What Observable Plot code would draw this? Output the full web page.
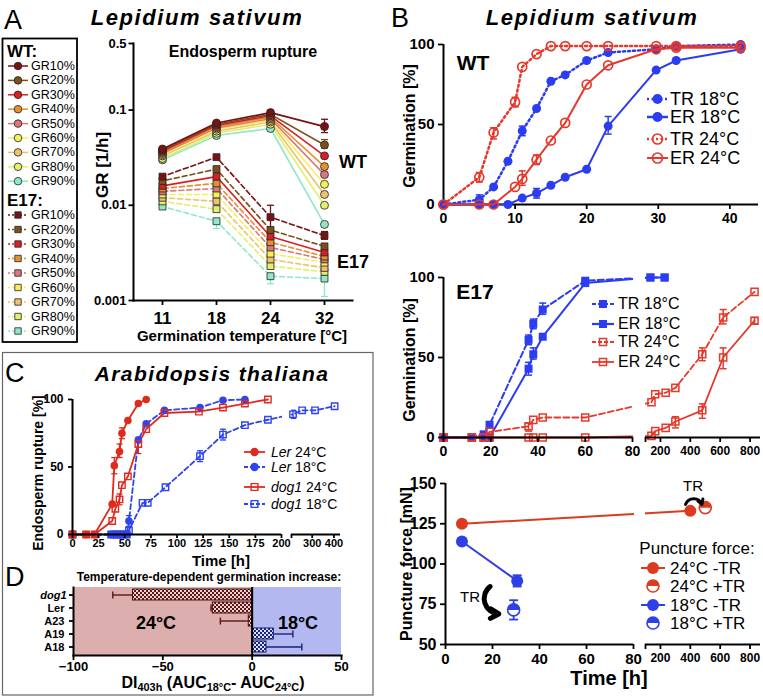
<!DOCTYPE html>
<html><head><meta charset="utf-8">
<script src="https://cdn.jsdelivr.net/npm/d3@7"></script>
<script src="https://cdn.jsdelivr.net/npm/@observablehq/plot@0.6"></script>
<style>
body{margin:0;background:#fff;}
#root{position:relative;width:763px;height:698px;overflow:hidden;background:#fff;font-family:"Liberation Sans",Arial,Helvetica,sans-serif;color:#000;}
.t{position:absolute;white-space:nowrap;line-height:1;}
.t sub{font-size:0.68em;vertical-align:-0.3em;line-height:0;}
</style></head><body><div id="root"></div>
<script>
// ================= DATA =================
// Panel A — growth rates GR [1/h] at 11, 18, 24, 32 °C
const tempsA = ["11","18","24","32"];
const grLabels = ["GR10%","GR20%","GR30%","GR40%","GR50%","GR60%","GR70%","GR80%","GR90%"];
const grColors = ["#7a1214","#7b5119","#d71f26","#e3912d","#d8777c","#f6ef5a","#eec072","#e3ee6a","#8fe9c6"];
const wtRates = [
  [0.039,0.073,0.094,0.067],
  [0.038,0.071,0.090,0.043],
  [0.037,0.069,0.087,0.033],
  [0.036,0.067,0.084,0.0255],
  [0.035,0.065,0.081,0.021],
  [0.034,0.063,0.078,0.0166],
  [0.033,0.060,0.075,0.013],
  [0.031,0.057,0.071,0.010],
  [0.030,0.054,0.064,0.0063]
];
const e17Rates = [
  [0.020,0.032,0.0075,0.0048],
  [0.018,0.024,0.0055,0.0037],
  [0.016,0.020,0.0047,0.0032],
  [0.015,0.017,0.0041,0.0029],
  [0.014,0.015,0.0036,0.0027],
  [0.013,0.013,0.0031,0.0025],
  [0.012,0.011,0.0027,0.0022],
  [0.011,0.0091,0.0023,0.0020],
  [0.0097,0.0068,0.0018,0.0017]
];
const errA = [
  {i:0,t:"32",lo:0.058,hi:0.080},
  {i:1,t:"32",lo:0.040,hi:0.049},
  {i:0,t:"24",lo:0.0057,hi:0.0100},
  {i:0,t:"32",lo:0.0044,hi:0.0053},
  {i:8,t:"18",lo:0.0057,hi:0.0068},
  {i:8,t:"24",lo:0.0015,hi:0.0018},
  {i:8,t:"32",lo:0.0011,hi:0.0026}
];
const ticksA = [0.001,0.01,0.1,0.5];

// Panel B — WT germination (%)
const wtTime18 = [0,5,7,9,11,13,15,17,20,23,29.7,32.5,41.5];
const wtTime24 = [0,5,7,10,11,13,15,17,20,23,29.7,32.5,41.5];
const wtTR18 = [0,3,11,27,46,60,77,81,90,95,97,99,100];
const wtER18 = [0,0,0,0,4,7,12,17,22,49,84,90,97];
const wtTR24 = [0,17,45,64,86,94,99,99,99,99,99,99,99];
const wtER24 = [0,0,0,11,16,28,40,51,75,87,97,98,98];
const wtErr18 = [{t:5,lo:1,hi:6},{t:11,lo:43,hi:49},{t:13,lo:4,hi:10},{t:23,lo:44,hi:55}];
const wtErr24 = [{t:5,lo:14,hi:20},{t:7,lo:41,hi:48},{t:10,lo:61,hi:67},{t:11,lo:12,hi:21},{t:13,lo:25,hi:31}];

// Panel B — E17 germination (%)
const e17Time18 = [0,12,17,19.5,36,38,42,60,133,228];
const e17TR18 = [0,0,2,8,61,71,80,98,100,100];
const e17ER18 = [0,0,0,0,43,52,63,96.5,100,100];
const e17Time24 = [0,12,17,19.5,36,38,42,60,140,165,235,300,480,620,830];
const e17TR24 = [0,0,0,3.5,7,11,12.5,12.5,22,27,28,31,52,75,91];
const e17ER24 = [0,0,0,0,0,0,0,0,1,4,6,10,17,50,73];
const e17Err18 = [{t:36,lo:58,hi:64},{t:38,lo:68,hi:74},{t:42,lo:77,hi:84},{t:36,lo:39,hi:47},{t:38,lo:49,hi:56}];
const e17Err24 = [{t:36,lo:4,hi:9},{t:480,lo:48,hi:56},{t:620,lo:71,hi:80},{t:300,lo:6,hi:13},{t:480,lo:12,hi:21},{t:620,lo:43,hi:56},{t:830,lo:71,hi:75}];

// Panel B — puncture force (mN)
const pfTime24m = [7,400], pf24m = [125,133];
const pfTime24p = [500], pf24p = [135];
const pfTime18m = [7,30.5], pf18m = [114,89.5];
const pfTime18p = [29], pf18p = [71.5];
const pfErr18 = [{t:30.5,lo:86,hi:93},{t:29,lo:65.5,hi:77.5}];
const trArrow24 = [{t1:368,f1:137,t2:478,f2:137}];
const trArrow18 = [{t1:19,f1:86,t2:22.7,f2:69}];

// Panel C — Arabidopsis endosperm rupture (%)
const cTimeLer24 = [0,13,21,38,40,45,47.3,53,63,70.5];
const cLer24 = [0,0,0,22.5,51,61.5,75,84.5,97,100];
const cTimeLer18 = [0,37,40,43,46,49,52,54,63,70.5,88,122,144,165];
const cLer18 = [0,0,0,0,0,0,0,10,70,82,92,94,99.5,100];
const cTimeDog24 = [0,13,21,38,41,45,47.3,53,63,70.5,88,121,144,165,187];
const cDog24 = [0,0,0,10,19,26,36.5,43,67,78,90,91,94,97,100];
const cTimeDog18 = [0,37,40,43,46,49,52,54,67,72,89,122,144,165,187,212,254,313,403];
const cDog18 = [0,0,0,0,0,0,0,3,23.5,23.5,35,58,74,81,85,89,92,92,95];
const cErr24 = [{t:40,lo:45,hi:57},{t:45,lo:57,hi:67},{t:47.3,lo:71,hi:79},{t:63,lo:60,hi:72},{t:45,lo:22,hi:30}];
const cErr18 = [{t:54,lo:6,hi:14},{t:122,lo:54,hi:62},{t:144,lo:70,hi:78},{t:212,lo:86,hi:92}];

// Panel D — DI403h
const dCats = ["dog1","Ler","A23","A19","A18"];
const dDI = [-66.7,-22,-1.9,12.1,8];
const dErr = [-78,-23,-17.8,22.8,27.8];

// ================= HELPERS =================
const FONT = '"Liberation Sans", Arial, Helvetica, sans-serif';
const root = document.getElementById("root");
const defs = d3.select(root).append("svg").attr("width",0).attr("height",0).style("position","absolute").append("defs");
function checker(id, light, dark){
  const p = defs.append("pattern").attr("id",id).attr("patternUnits","userSpaceOnUse").attr("width",4).attr("height",4);
  p.append("rect").attr("width",4).attr("height",4).attr("fill",light);
  p.append("rect").attr("width",2).attr("height",2).attr("fill",dark);
  p.append("rect").attr("x",2).attr("y",2).attr("width",2).attr("height",2).attr("fill",dark);
}
checker("chkR","#f0d2d2","#5a1616");
checker("chkB","#dfe2ff","#18237a");

function mk(o){
  const {x0,x1,y0,y1,...rest} = o;
  const svg = Plot.plot({
    width:763, height:698,
    marginLeft:x0, marginRight:763-x1, marginTop:y0, marginBottom:698-y1,
    color:{type:"identity"},
    style:`position:absolute;left:0;top:0;background:transparent;overflow:visible;font-family:${FONT};color:#000;`,
    ...rest
  });
  root.appendChild(svg);
  return svg;
}
const hcap = {draw(ctx,size){const r=Math.sqrt(size/Math.PI);ctx.moveTo(-r,0);ctx.lineTo(r,0);}};
const vcap = {draw(ctx,size){const r=Math.sqrt(size/Math.PI);ctx.moveTo(0,-r);ctx.lineTo(0,r);}};
const halfTop = {draw(ctx,size){const r=Math.sqrt(size/Math.PI);ctx.moveTo(r,0);ctx.arc(0,0,r,0,Math.PI,true);ctx.closePath();}};
const ident = t => t;
function errMarks(rows, color, cap=3.5, w=1.5, f=ident){
  const x = d => f(d.t);
  return [
    Plot.ruleX(rows,{x,y1:"lo",y2:"hi",stroke:color,strokeWidth:w}),
    Plot.dot(rows,{x,y:"lo",symbol:hcap,r:cap,stroke:color,strokeWidth:w,fill:"none"}),
    Plot.dot(rows,{x,y:"hi",symbol:hcap,r:cap,stroke:color,strokeWidth:w,fill:"none"})
  ];
}
const rows = (ts,vs,f=ident) => ts.map((t,i)=>({t:f(t), g:vs[i]}));
function T(x,y,html,css="",anchor="c",rot=false){
  const d = document.createElement("div");
  d.className = "t";
  d.innerHTML = html;
  d.style.cssText += css;
  d.style.left = x+"px"; d.style.top = y+"px";
  const tx = anchor==="l" ? "0" : anchor==="r" ? "-100%" : "-50%";
  d.style.transform = `translate(${tx},-50%)` + (rot ? " rotate(-90deg)" : "");
  root.appendChild(d);
}
const axStyle = {fontWeight:"bold", strokeWidth:1.8, tickSize:5, label:null};
// broken-axis transforms (time -> display units along the frame)
const e17Brk = d3.scaleLinear().domain([0,80,100,870]).range([0,189,202,317]);
const pfBrk  = d3.scaleLinear().domain([0,80,100,870]).range([0,188,200,315]);
const cBrk   = d3.scaleLinear().domain([0,200,205,430]).range([0,209,219,268]);
const inv = (b) => (u) => String(Math.round(b.invert(u)));

// ================= PANEL A =================
const aWT = [], aE17 = [];
grLabels.forEach((g,i)=>tempsA.forEach((t,j)=>{
  aWT.push({g,i,t,v:wtRates[i][j],c:grColors[i]});
  aE17.push({g,i,t,v:e17Rates[i][j],c:grColors[i]});
}));
const aWTr = aWT.slice().reverse(), aE17r = aE17.slice().reverse();
const errArows = errA.map(d=>({...d, c: grColors[d.i]}));
mk({x0:133,x1:352,y0:43,y1:300,
  x:{type:"point",domain:tempsA,padding:0.5},
  y:{type:"log",domain:[0.001,0.5],axis:null},
  marks:[
    Plot.frame({anchor:"left",strokeWidth:2}),
    Plot.frame({anchor:"bottom",strokeWidth:2}),
    Plot.dot(ticksA,{y:d=>d,frameAnchor:"left",dx:-2.5,symbol:hcap,r:2.5,stroke:"#000",strokeWidth:1.8,fill:"none"}),
    Plot.text(ticksA,{y:d=>d,text:d=>String(d),frameAnchor:"left",dx:-7,textAnchor:"end",fontWeight:"bold",fontSize:13}),
    Plot.axisX({...axStyle,ticks:tempsA,fontSize:17,tickPadding:6}),
    ...errMarks(errArows,"c",3.5,1.3),
    Plot.line(aWTr,{x:"t",y:"v",z:"g",stroke:"c",strokeWidth:1.6}),
    Plot.line(aE17r,{filter:d=>d.i!==2,x:"t",y:"v",z:"g",stroke:"c",strokeWidth:1.6,strokeDasharray:"5,3"}),
    Plot.line(aE17r,{filter:d=>d.i===2,x:"t",y:"v",z:"g",stroke:"c",strokeWidth:1.6}),
    Plot.dot(aE17r,{x:"t",y:"v",symbol:"square",r:3.9,fill:"c",stroke:"#222",strokeWidth:0.8}),
    Plot.dot(aWTr,{x:"t",y:"v",r:4,fill:"c",stroke:"#222",strokeWidth:0.8})
  ]});

// ================= PANEL B: WT =================
const BLUE = "#2b3cf2", RED = "#e5392b";
mk({x0:443,x1:758,y0:44,y1:204,
  x:{domain:[0,44]}, y:{domain:[0,100]},
  marks:[
    Plot.ruleX([0],{strokeWidth:2}),
    Plot.ruleY([0],{strokeWidth:2}),
    Plot.axisY({...axStyle,ticks:[0,50,100],fontSize:15}),
    Plot.axisX({...axStyle,ticks:[0,10,20,30,40],fontSize:14}),
    ...errMarks(wtErr18,BLUE),
    ...errMarks(wtErr24,RED),
    Plot.line(rows(wtTime18,wtTR18),{x:"t",y:"g",stroke:BLUE,strokeWidth:2.5,strokeDasharray:"2,3"}),
    Plot.line(rows(wtTime18,wtER18),{x:"t",y:"g",stroke:BLUE,strokeWidth:2}),
    Plot.dot(rows(wtTime18,wtTR18),{x:"t",y:"g",r:4.5,fill:BLUE}),
    Plot.dot(rows(wtTime18,wtER18),{x:"t",y:"g",r:4.5,fill:BLUE}),
    Plot.line(rows(wtTime24,wtTR24),{x:"t",y:"g",stroke:RED,strokeWidth:2.5,strokeDasharray:"2,3"}),
    Plot.line(rows(wtTime24,wtER24),{x:"t",y:"g",stroke:RED,strokeWidth:2}),
    Plot.dot(rows(wtTime24,wtTR24),{x:"t",y:"g",r:4.5,fill:"none",stroke:RED,strokeWidth:1.7}),
    Plot.dot(rows(wtTime24,wtER24),{x:"t",y:"g",r:4.5,fill:"none",stroke:RED,strokeWidth:1.7})
  ]});

// ================= PANEL B: E17 =================
const eb = e17Brk;
mk({x0:443,x1:760,y0:277,y1:437,
  x:{domain:[0,317]}, y:{domain:[0,100]},
  marks:[
    ...errMarks(e17Err18,BLUE,3.5,1.5,eb),
    ...errMarks(e17Err24,RED,3.5,1.5,eb),
    Plot.line(rows(e17Time18,e17TR18,eb),{x:"t",y:"g",stroke:BLUE,strokeWidth:2,strokeDasharray:"6,3"}),
    Plot.line(rows(e17Time18,e17ER18,eb),{x:"t",y:"g",stroke:BLUE,strokeWidth:2}),
    Plot.line(rows(e17Time24,e17TR24,eb),{x:"t",y:"g",stroke:RED,strokeWidth:1.8,strokeDasharray:"6,3"}),
    Plot.line(rows(e17Time24,e17ER24,eb),{x:"t",y:"g",stroke:RED,strokeWidth:1.8}),
    Plot.rect([0],{x1:eb(80)+1,x2:eb(100),fill:"white",insetTop:-4,insetBottom:-4}),
    Plot.dot(rows(e17Time18,e17TR18,eb),{x:"t",y:"g",symbol:"square",r:4.5,fill:BLUE}),
    Plot.dot(rows(e17Time18,e17ER18,eb),{x:"t",y:"g",symbol:"square",r:4.5,fill:BLUE}),
    Plot.dot(rows(e17Time24,e17TR24,eb),{x:"t",y:"g",symbol:"square",r:4,fill:"none",stroke:RED,strokeWidth:1.5}),
    Plot.dot(rows(e17Time24,e17ER24,eb),{x:"t",y:"g",symbol:"square",r:4,fill:"none",stroke:RED,strokeWidth:1.5}),
    Plot.ruleX([0],{strokeWidth:2}),
    Plot.ruleY([0],{x1:eb(0),x2:eb(80),strokeWidth:2}),
    Plot.ruleY([0],{x1:eb(100),x2:eb(870),strokeWidth:2}),
    Plot.axisY({...axStyle,ticks:[0,50,100],fontSize:15}),
    Plot.axisX({...axStyle,ticks:[0,20,40,60,80].map(eb),tickFormat:inv(eb),fontSize:14}),
    Plot.axisX({...axStyle,ticks:[100,200,400,600,800].map(eb),tickFormat:u=>u===eb(100)?"":inv(eb)(u),fontSize:12})
  ]});

// ================= PANEL B: puncture force =================
const PRED = "#dc3b1f", PBLUE = "#2f3fe6";
const pb = pfBrk;
mk({x0:445,x1:760,y0:483,y1:644,
  x:{domain:[0,315]}, y:{domain:[50,150]},
  marks:[
    Plot.line(rows(pfTime24m,pf24m,pb),{x:"t",y:"g",stroke:PRED,strokeWidth:2}),
    Plot.line(rows(pfTime18m,pf18m,pb),{x:"t",y:"g",stroke:PBLUE,strokeWidth:2}),
    Plot.rect([0],{x1:pb(80)+1,x2:pb(100),fill:"white",insetTop:-4,insetBottom:-4}),
    ...errMarks(pfErr18,PBLUE,4.5,1.8,pb),
    Plot.dot(rows(pfTime24m,pf24m,pb),{x:"t",y:"g",r:6,fill:PRED}),
    Plot.dot(rows(pfTime24p,pf24p,pb),{x:"t",y:"g",r:6,fill:"white",stroke:PRED,strokeWidth:1.6}),
    Plot.dot(rows(pfTime24p,pf24p,pb),{x:"t",y:"g",r:6,symbol:halfTop,fill:PRED}),
    Plot.dot(rows(pfTime18m,pf18m,pb),{x:"t",y:"g",r:6,fill:PBLUE}),
    Plot.dot(rows(pfTime18p,pf18p,pb),{x:"t",y:"g",r:6,fill:"white",stroke:PBLUE,strokeWidth:1.6}),
    Plot.dot(rows(pfTime18p,pf18p,pb),{x:"t",y:"g",r:6,symbol:halfTop,fill:PBLUE}),
    Plot.arrow(trArrow24,{x1:d=>pb(d.t1),y1:"f1",x2:d=>pb(d.t2),y2:"f2",bend:70,strokeWidth:3,headLength:7,stroke:"#000"}),
    Plot.arrow(trArrow18,{x1:d=>pb(d.t1),y1:"f1",x2:d=>pb(d.t2),y2:"f2",bend:-70,strokeWidth:5,headLength:9,stroke:"#000"}),
    Plot.ruleX([0],{strokeWidth:2}),
    Plot.ruleY([50],{x1:pb(0),x2:pb(80),strokeWidth:2}),
    Plot.ruleY([50],{x1:pb(100),x2:pb(870),strokeWidth:2}),
    Plot.axisY({...axStyle,ticks:[50,75,100,125,150],fontSize:16}),
    Plot.axisX({...axStyle,ticks:[0,20,40,60,80].map(pb),tickFormat:inv(pb),fontSize:15}),
    Plot.axisX({...axStyle,ticks:[100,200,400,600,800].map(pb),tickFormat:u=>u===pb(100)?"":inv(pb)(u),fontSize:12})
  ]});

// ================= PANEL C =================
const CRED = "#e02a1e", CBLUE = "#2e44ee";
const cb = cBrk;
mk({x0:72,x1:340,y0:399,y1:534,
  x:{domain:[0,268]}, y:{domain:[0,100]},
  marks:[
    ...errMarks(cErr24,CRED,3,1.3,cb),
    ...errMarks(cErr18,CBLUE,3,1.3,cb),
    Plot.line(rows(cTimeDog18,cDog18,cb),{x:"t",y:"g",stroke:CBLUE,strokeWidth:1.8,strokeDasharray:"5,3"}),
    Plot.line(rows(cTimeLer18,cLer18,cb),{x:"t",y:"g",stroke:CBLUE,strokeWidth:1.8,strokeDasharray:"5,3"}),
    Plot.line(rows(cTimeDog24,cDog24,cb),{x:"t",y:"g",stroke:CRED,strokeWidth:1.8}),
    Plot.line(rows(cTimeLer24,cLer24,cb),{x:"t",y:"g",stroke:CRED,strokeWidth:1.8}),
    Plot.rect([0],{x1:cb(200)+1,x2:cb(205),fill:"white",insetTop:-4,insetBottom:-4}),
    Plot.dot(rows(cTimeDog18,cDog18,cb),{x:"t",y:"g",symbol:"square",r:3.6,fill:"none",stroke:CBLUE,strokeWidth:1.4}),
    Plot.dot(rows(cTimeLer18,cLer18,cb),{x:"t",y:"g",r:3.8,fill:CBLUE}),
    Plot.dot(rows(cTimeDog24,cDog24,cb),{x:"t",y:"g",symbol:"square",r:3.6,fill:"none",stroke:CRED,strokeWidth:1.4}),
    Plot.dot(rows(cTimeLer24,cLer24,cb),{x:"t",y:"g",r:3.8,fill:CRED}),
    Plot.ruleX([0],{strokeWidth:2}),
    Plot.ruleY([0],{x1:cb(0),x2:cb(200),strokeWidth:2}),
    Plot.ruleY([0],{x1:cb(205),x2:cb(430),strokeWidth:2}),
    Plot.axisY({...axStyle,ticks:[0,50,100],fontSize:12,tickSize:4}),
    Plot.axisX({...axStyle,ticks:[0,25,50,75,100,125,150,175,200].map(cb),tickFormat:inv(cb),fontSize:11,tickSize:4,tickPadding:1}),
    Plot.axisX({...axStyle,ticks:[205,300,400].map(cb),tickFormat:u=>u===cb(205)?"":inv(cb)(u),fontSize:11,tickSize:4,tickPadding:1})
  ]});

// ================= PANEL D =================
const dRows = dCats.map((c,i)=>({cat:c, v:dDI[i], e:dErr[i]}));
mk({x0:73,x1:341,y0:587,y1:655,
  x:{domain:[-100,50]}, y:{type:"band",domain:dCats,padding:0.14},
  marks:[
    Plot.rect([0],{x1:-100,x2:0,fill:"#dcaeae"}),
    Plot.rect([0],{x1:0,x2:50,fill:"#b4b8f0"}),
    Plot.ruleY(dRows,{y:"cat",x1:"v",x2:"e",stroke:d=>d.v<0?"#5a1515":"#18237a",strokeWidth:1.4}),
    Plot.dot(dRows,{x:"e",y:"cat",symbol:vcap,r:3.5,stroke:d=>d.v<0?"#5a1515":"#18237a",strokeWidth:1.4,fill:"none"}),
    Plot.barX(dRows,{filter:d=>d.v<0,x:"v",y:"cat",fill:"url(#chkR)",stroke:"#4a1010",strokeWidth:1}),
    Plot.barX(dRows,{filter:d=>d.v>=0,x:"v",y:"cat",fill:"url(#chkB)",stroke:"#141c6a",strokeWidth:1}),
    Plot.ruleX([0],{strokeWidth:2}),
    Plot.frame({anchor:"left",strokeWidth:2}),
    Plot.frame({anchor:"bottom",strokeWidth:2}),
    Plot.axisX({...axStyle,ticks:[-100,-50,0,50],fontSize:13,tickPadding:1}),
    Plot.axisY({...axStyle,tickSize:4,fontSize:11,tickFormat:d=>d==="dog1"?"":d}),
    Plot.text(["dog1"],{y:d=>d,frameAnchor:"left",dx:-7,textAnchor:"end",fontStyle:"italic",fontWeight:"bold",fontSize:11})
  ]});

// ================= OVERLAY: legends & boxes =================
const ov = d3.select(root).append("svg").attr("width",763).attr("height",698)
  .style("position","absolute").style("left","0px").style("top","0px").style("overflow","visible");
ov.append("rect").attr("x",2.5).attr("y",38.5).attr("width",74.5).attr("height",303.5).attr("fill","none").attr("stroke","#000").attr("stroke-width",1.8);
ov.append("rect").attr("x",2.5).attr("y",352.5).attr("width",370.5).attr("height",342.5).attr("fill","none").attr("stroke","#666").attr("stroke-width",1.2);

function sw(x,y,o){
  const {len=20,color,dash=null,sym="circle",r=4,fill,mstroke,msw=1,lw=1.5,half=false} = o;
  if (lw > 0) ov.append("line").attr("x1",x).attr("x2",x+len).attr("y1",y).attr("y2",y)
    .attr("stroke",color).attr("stroke-width",lw).attr("stroke-dasharray",dash);
  const type = sym==="square" ? d3.symbolSquare : d3.symbolCircle;
  ov.append("path").attr("transform",`translate(${x+len/2},${y})`)
    .attr("d",d3.symbol(type,Math.PI*r*r)()).attr("fill",fill).attr("stroke",mstroke||"none").attr("stroke-width",msw);
  if (half) ov.append("path").attr("transform",`translate(${x+len/2},${y})`)
    .attr("d",d3.symbol(halfTop,Math.PI*r*r)()).attr("fill",color);
}

// Panel A legend
T(7,51,"WT:","font-size:17px;font-weight:bold;","l");
T(7,200,"E17:","font-size:17px;font-weight:bold;","l");
grLabels.forEach((g,i)=>{
  const y1 = 66 + i*14.4, y2 = 215 + i*14.5;
  sw(8,y1,{len:20,color:grColors[i],r:3.8,fill:grColors[i],mstroke:"#222",msw:0.8});
  T(31,y1,g,"font-size:12.5px;","l");
  sw(8,y2,{len:20,color:grColors[i],dash:"2,2",sym:"square",r:3.6,fill:grColors[i],mstroke:"#222",msw:0.8});
  T(31,y2,g,"font-size:12.5px;","l");
});

// WT legend (B)
sw(647,99,{len:21,color:BLUE,dash:"2,2.5",lw:2.5,r:5,fill:BLUE});
sw(647,117,{len:21,color:BLUE,lw:2.5,r:5,fill:BLUE});
sw(647,139,{len:21,color:RED,dash:"2,2.5",lw:2.5,r:5,fill:"none",mstroke:RED,msw:1.7});
sw(647,158,{len:21,color:RED,lw:2,r:5,fill:"none",mstroke:RED,msw:1.7});
[["TR 18°C",99],["ER 18°C",117],["TR 24°C",139],["ER 24°C",158]].forEach(([s,y])=>T(670,y,s,"font-size:18px;","l"));

// E17 legend (B)
sw(592,304,{len:22,color:BLUE,dash:"4,2",lw:2.2,sym:"square",r:4.5,fill:BLUE});
sw(592,324,{len:22,color:BLUE,lw:2.2,sym:"square",r:4.5,fill:BLUE});
sw(592,342,{len:22,color:RED,dash:"4,2",lw:1.8,sym:"square",r:4,fill:"none",mstroke:RED,msw:1.5});
sw(592,362,{len:22,color:RED,lw:1.8,sym:"square",r:4,fill:"none",mstroke:RED,msw:1.5});
[["TR 18°C",304],["ER 18°C",324],["TR 24°C",342],["ER 24°C",362]].forEach(([s,y])=>T(618,y,s,"font-size:16px;","l"));

// Puncture legend
T(697,548,"Puncture force:","font-size:17px;");
sw(641,568,{len:24,color:PRED,lw:2,r:6,fill:PRED});
sw(641,586,{len:24,color:PRED,lw:0,r:6,fill:"white",mstroke:PRED,msw:1.6,half:true});
sw(641,605,{len:24,color:PBLUE,lw:2,r:6,fill:PBLUE});
sw(641,623,{len:24,color:PBLUE,lw:0,r:6,fill:"white",mstroke:PBLUE,msw:1.6,half:true});
[["24°C -TR",568],["24°C +TR",586],["18°C -TR",605],["18°C +TR",623]].forEach(([s,y])=>T(670,y,s,"font-size:17px;","l"));

// C legend
sw(244,452,{len:21,color:CRED,lw:1.8,r:4.2,fill:CRED});
sw(244,467,{len:21,color:CBLUE,lw:1.8,dash:"4,2",r:4.2,fill:CBLUE});
sw(244,487,{len:21,color:CRED,lw:1.8,sym:"square",r:3.8,fill:"none",mstroke:CRED,msw:1.4});
sw(244,504,{len:21,color:CBLUE,lw:1.8,dash:"4,2",sym:"square",r:3.8,fill:"none",mstroke:CBLUE,msw:1.4});
T(271,452,"<i>Ler</i> 24°C","font-size:14px;","l");
T(271,467,"<i>Ler</i> 18°C","font-size:14px;","l");
T(271,487,"<i>dog1</i> 24°C","font-size:14px;","l");
T(271,504,"<i>dog1</i> 18°C","font-size:14px;","l");

// ================= TEXT =================
const TITLE = "font-size:22px;font-weight:bold;font-style:italic;letter-spacing:1.6px;";
T(4,20,"A","font-size:27px;","l");
T(197,18,"Lepidium sativum",TITLE);
T(391,18,"B","font-size:27px;","l");
T(592,18,"Lepidium sativum",TITLE);
T(243,52,"Endosperm rupture","font-size:16px;font-weight:bold;");
T(102,165,"GR [1/h]","font-size:17px;font-weight:bold;","c",true);
T(353,162,"WT","font-size:18px;font-weight:bold;");
T(353,262,"E17","font-size:18px;font-weight:bold;");
T(242,335,"Germination temperature [°C]","font-size:15px;font-weight:bold;");
T(473,62,"WT","font-size:21px;font-weight:bold;");
T(410,126,"Germination [%]","font-size:16px;font-weight:bold;","c",true);
T(475,291,"E17","font-size:21px;font-weight:bold;");
T(410,360,"Germination [%]","font-size:16px;font-weight:bold;","c",true);
T(407,564,"Puncture force [mN]","font-size:16px;font-weight:bold;","c",true);
T(609,678,"Time [h]","font-size:20px;font-weight:bold;");
T(693,485,"TR","font-size:15px;");
T(470,596,"TR","font-size:15px;");
T(5,373,"C","font-size:27px;","l");
T(212,373,"Arabidopsis thaliana","font-size:21px;font-weight:bold;font-style:italic;letter-spacing:1.4px;");
T(38,473,"Endosperm rupture [%]","font-size:14px;font-weight:bold;","c",true);
T(221,560,"Time [h]","font-size:15px;font-weight:bold;");
T(5,577,"D","font-size:27px;","l");
T(209,577,"Temperature-dependent germination increase:","font-size:12px;font-weight:bold;");
T(156,623,"24°C","font-size:18px;font-weight:bold;");
T(298,623,"18°C","font-size:18px;font-weight:bold;");
T(213,683,"DI<sub>403h</sub> (AUC<sub>18°C</sub>- AUC<sub>24°C</sub>)","font-size:16px;font-weight:bold;");
</script></body></html>
